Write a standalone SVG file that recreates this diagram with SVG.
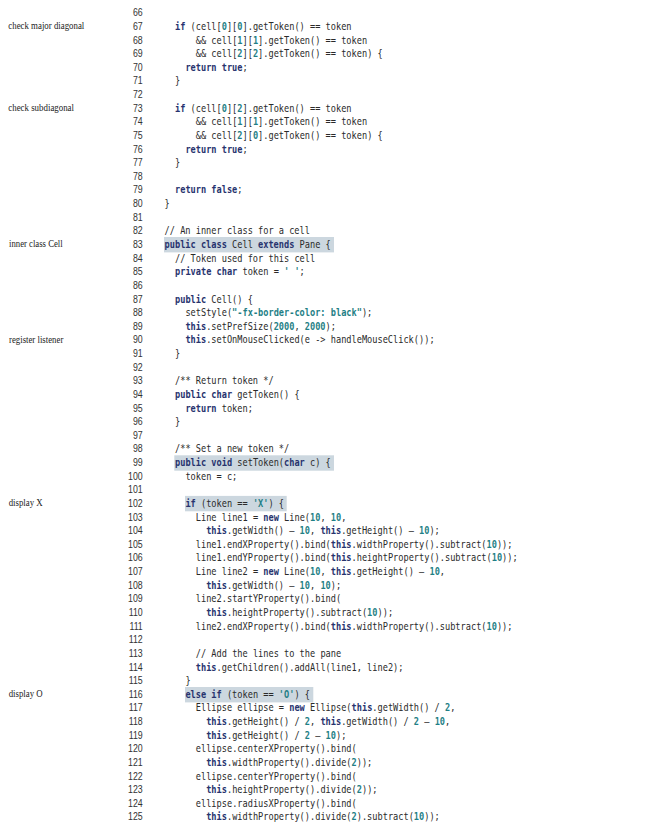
<svg xmlns="http://www.w3.org/2000/svg" width="653" height="836" viewBox="0 0 653 836">
<style>
.lbl{font-family:"Liberation Serif","Times New Roman",serif;font-size:10px;fill:#222}
.code text{font-family:"DejaVu Sans Mono","Liberation Mono",monospace;font-size:11px;fill:#2a2a2a}
.ln text{font-family:"Liberation Sans",Arial,sans-serif;font-size:11.2px;fill:#333;text-anchor:end}
.k{fill:#27336e;font-weight:bold}
.n{fill:#1f7f86;font-weight:bold}
.s{fill:#1f7f86;font-weight:bold}
.c{fill:#3f8f4a}
.hl{fill:#ccd7df}
</style>
<rect width="653" height="836" fill="#fff"/>
<g id="highlights">
<rect class="hl" x="164" y="237" width="170" height="15.4"/>
<rect class="hl" x="174.3" y="455.3" width="159.7" height="15.4"/>
<rect class="hl" x="185" y="495.9" width="101.7" height="15.4"/>
<rect class="hl" x="185" y="687" width="128.3" height="15.4"/>
</g>
<g id="annotations">
<text class="lbl" x="8.3" y="29.2" textLength="76" lengthAdjust="spacingAndGlyphs">check major diagonal</text>
<text class="lbl" x="8.3" y="111" textLength="65.7" lengthAdjust="spacingAndGlyphs">check subdiagonal</text>
<text class="lbl" x="9" y="247.3" textLength="53.7" lengthAdjust="spacingAndGlyphs">inner class Cell</text>
<text class="lbl" x="9" y="342.7" textLength="54.3" lengthAdjust="spacingAndGlyphs">register listener</text>
<text class="lbl" x="8.7" y="506.3" textLength="34" lengthAdjust="spacingAndGlyphs">display X</text>
<text class="lbl" x="8.7" y="697.1" textLength="34" lengthAdjust="spacingAndGlyphs">display O</text>
</g>
<g id="listing" transform="translate(154.2,0) scale(0.785,1)">
<g class="ln">
<text x="-14.6" y="16.3">66</text>
<text x="-14.6" y="29.93">67</text>
<text x="-14.6" y="43.56">68</text>
<text x="-14.6" y="57.19">69</text>
<text x="-14.6" y="70.82">70</text>
<text x="-14.6" y="84.45">71</text>
<text x="-14.6" y="98.08">72</text>
<text x="-14.6" y="111.71">73</text>
<text x="-14.6" y="125.34">74</text>
<text x="-14.6" y="138.97">75</text>
<text x="-14.6" y="152.6">76</text>
<text x="-14.6" y="166.23">77</text>
<text x="-14.6" y="179.86">78</text>
<text x="-14.6" y="193.49">79</text>
<text x="-14.6" y="207.12">80</text>
<text x="-14.6" y="220.75">81</text>
<text x="-14.6" y="234.38">82</text>
<text x="-14.6" y="248.01">83</text>
<text x="-14.6" y="261.64">84</text>
<text x="-14.6" y="275.27">85</text>
<text x="-14.6" y="288.9">86</text>
<text x="-14.6" y="302.53">87</text>
<text x="-14.6" y="316.16">88</text>
<text x="-14.6" y="329.79">89</text>
<text x="-14.6" y="343.42">90</text>
<text x="-14.6" y="357.05">91</text>
<text x="-14.6" y="370.68">92</text>
<text x="-14.6" y="384.31">93</text>
<text x="-14.6" y="397.94">94</text>
<text x="-14.6" y="411.57">95</text>
<text x="-14.6" y="425.2">96</text>
<text x="-14.6" y="438.83">97</text>
<text x="-14.6" y="452.46">98</text>
<text x="-14.6" y="466.09">99</text>
<text x="-14.6" y="479.72">100</text>
<text x="-14.6" y="493.35">101</text>
<text x="-14.6" y="506.98">102</text>
<text x="-14.6" y="520.61">103</text>
<text x="-14.6" y="534.24">104</text>
<text x="-14.6" y="547.87">105</text>
<text x="-14.6" y="561.5">106</text>
<text x="-14.6" y="575.13">107</text>
<text x="-14.6" y="588.76">108</text>
<text x="-14.6" y="602.39">109</text>
<text x="-14.6" y="616.02">110</text>
<text x="-14.6" y="629.65">111</text>
<text x="-14.6" y="643.28">112</text>
<text x="-14.6" y="656.91">113</text>
<text x="-14.6" y="670.54">114</text>
<text x="-14.6" y="684.17">115</text>
<text x="-14.6" y="697.8">116</text>
<text x="-14.6" y="711.43">117</text>
<text x="-14.6" y="725.06">118</text>
<text x="-14.6" y="738.69">119</text>
<text x="-14.6" y="752.32">120</text>
<text x="-14.6" y="765.95">121</text>
<text x="-14.6" y="779.58">122</text>
<text x="-14.6" y="793.21">123</text>
<text x="-14.6" y="806.84">124</text>
<text x="-14.6" y="820.47">125</text>
</g>
<g class="code">
<text x="26.49" y="29.93"><tspan class="k">if</tspan> (cell[<tspan class="n">0</tspan>][<tspan class="n">0</tspan>].getToken() == token</text>
<text x="52.98" y="43.56">&amp;&amp; cell[<tspan class="n">1</tspan>][<tspan class="n">1</tspan>].getToken() == token</text>
<text x="52.98" y="57.19">&amp;&amp; cell[<tspan class="n">2</tspan>][<tspan class="n">2</tspan>].getToken() == token) {</text>
<text x="39.73" y="70.82"><tspan class="k">return true</tspan>;</text>
<text x="26.49" y="84.45">}</text>
<text x="26.49" y="111.71"><tspan class="k">if</tspan> (cell[<tspan class="n">0</tspan>][<tspan class="n">2</tspan>].getToken() == token</text>
<text x="52.98" y="125.34">&amp;&amp; cell[<tspan class="n">1</tspan>][<tspan class="n">1</tspan>].getToken() == token</text>
<text x="52.98" y="138.97">&amp;&amp; cell[<tspan class="n">2</tspan>][<tspan class="n">0</tspan>].getToken() == token) {</text>
<text x="39.73" y="152.6"><tspan class="k">return true</tspan>;</text>
<text x="26.49" y="166.23">}</text>
<text x="26.49" y="193.49"><tspan class="k">return false</tspan>;</text>
<text x="13.24" y="207.12">}</text>
<text x="13.24" y="234.38" class="c">// An inner class for a cell</text>
<text x="13.24" y="248.01"><tspan class="k">public class</tspan> Cell <tspan class="k">extends</tspan> Pane {</text>
<text x="26.49" y="261.64" class="c">// Token used for this cell</text>
<text x="26.49" y="275.27"><tspan class="k">private char</tspan> token = <tspan class="s">' '</tspan>;</text>
<text x="26.49" y="302.53"><tspan class="k">public</tspan> Cell() {</text>
<text x="39.73" y="316.16">setStyle(<tspan class="s">"-fx-border-color: black"</tspan>);</text>
<text x="39.73" y="329.79"><tspan class="k">this</tspan>.setPrefSize(<tspan class="n">2000</tspan>, <tspan class="n">2000</tspan>);</text>
<text x="39.73" y="343.42"><tspan class="k">this</tspan>.setOnMouseClicked(e -&gt; handleMouseClick());</text>
<text x="26.49" y="357.05">}</text>
<text x="26.49" y="384.31" class="c">/** Return token */</text>
<text x="26.49" y="397.94"><tspan class="k">public char</tspan> getToken() {</text>
<text x="39.73" y="411.57"><tspan class="k">return</tspan> token;</text>
<text x="26.49" y="425.2">}</text>
<text x="26.49" y="452.46" class="c">/** Set a new token */</text>
<text x="26.49" y="466.09"><tspan class="k">public void</tspan> setToken(<tspan class="k">char</tspan> c) {</text>
<text x="39.73" y="479.72">token = c;</text>
<text x="39.73" y="506.98"><tspan class="k">if</tspan> (token == <tspan class="s">'X'</tspan>) {</text>
<text x="52.98" y="520.61">Line line1 = <tspan class="k">new</tspan> Line(<tspan class="n">10</tspan>, <tspan class="n">10</tspan>,</text>
<text x="66.22" y="534.24"><tspan class="k">this</tspan>.getWidth() – <tspan class="n">10</tspan>, <tspan class="k">this</tspan>.getHeight() – <tspan class="n">10</tspan>);</text>
<text x="52.98" y="547.87">line1.endXProperty().bind(<tspan class="k">this</tspan>.widthProperty().subtract(<tspan class="n">10</tspan>));</text>
<text x="52.98" y="561.5">line1.endYProperty().bind(<tspan class="k">this</tspan>.heightProperty().subtract(<tspan class="n">10</tspan>));</text>
<text x="52.98" y="575.13">Line line2 = <tspan class="k">new</tspan> Line(<tspan class="n">10</tspan>, <tspan class="k">this</tspan>.getHeight() – <tspan class="n">10</tspan>,</text>
<text x="66.22" y="588.76"><tspan class="k">this</tspan>.getWidth() – <tspan class="n">10</tspan>, <tspan class="n">10</tspan>);</text>
<text x="52.98" y="602.39">line2.startYProperty().bind(</text>
<text x="66.22" y="616.02"><tspan class="k">this</tspan>.heightProperty().subtract(<tspan class="n">10</tspan>));</text>
<text x="52.98" y="629.65">line2.endXProperty().bind(<tspan class="k">this</tspan>.widthProperty().subtract(<tspan class="n">10</tspan>));</text>
<text x="52.98" y="656.91" class="c">// Add the lines to the pane</text>
<text x="52.98" y="670.54"><tspan class="k">this</tspan>.getChildren().addAll(line1, line2);</text>
<text x="39.73" y="684.17">}</text>
<text x="39.73" y="697.8"><tspan class="k">else if</tspan> (token == <tspan class="s">'O'</tspan>) {</text>
<text x="52.98" y="711.43">Ellipse ellipse = <tspan class="k">new</tspan> Ellipse(<tspan class="k">this</tspan>.getWidth() / <tspan class="n">2</tspan>,</text>
<text x="66.22" y="725.06"><tspan class="k">this</tspan>.getHeight() / <tspan class="n">2</tspan>, <tspan class="k">this</tspan>.getWidth() / <tspan class="n">2</tspan> – <tspan class="n">10</tspan>,</text>
<text x="66.22" y="738.69"><tspan class="k">this</tspan>.getHeight() / <tspan class="n">2</tspan> – <tspan class="n">10</tspan>);</text>
<text x="52.98" y="752.32">ellipse.centerXProperty().bind(</text>
<text x="66.22" y="765.95"><tspan class="k">this</tspan>.widthProperty().divide(<tspan class="n">2</tspan>));</text>
<text x="52.98" y="779.58">ellipse.centerYProperty().bind(</text>
<text x="66.22" y="793.21"><tspan class="k">this</tspan>.heightProperty().divide(<tspan class="n">2</tspan>));</text>
<text x="52.98" y="806.84">ellipse.radiusXProperty().bind(</text>
<text x="66.22" y="820.47"><tspan class="k">this</tspan>.widthProperty().divide(<tspan class="n">2</tspan>).subtract(<tspan class="n">10</tspan>));</text>
</g>
</g>
</svg>
